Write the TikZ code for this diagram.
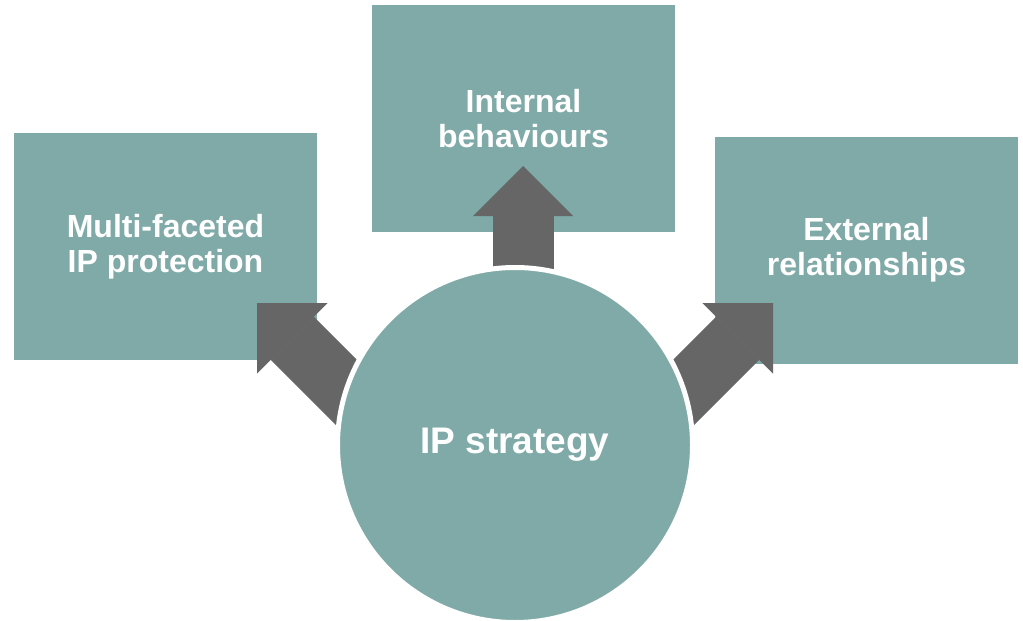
\documentclass[tikz,border=0pt]{standalone}
\usepackage{fontspec}
\setmainfont{Liberation Sans}
\usetikzlibrary{arrows.meta}
\definecolor{sage}{HTML}{7FAAA8}
\definecolor{slate}{HTML}{666666}

\begin{document}
\begin{tikzpicture}[x=0.5pt, y=-0.5pt,
    block/.style={fill=sage, minimum width=151.5pt, minimum height=113.5pt, inner sep=0pt,
        text=white, align=center, font=\bfseries\fontsize{16}{17.5}\selectfont},
    hub/.style={circle, fill=sage, draw=white, line width=2.5pt, minimum size=177.5pt,
        inner sep=0pt, text=white, font=\bfseries\fontsize{18.5}{22}\selectfont},
    fat/.style={slate, line width=30.5pt, -{Triangle[length=25pt, width=50pt, line width=0pt]}}]
                \useasboundingbox (0,0) rectangle (1023,621);
                \coordinate (tipL) at (257,303);
                \coordinate (tailL) at (407,453);
                \coordinate (tipT) at (523,166);
                \coordinate (tailT) at (523,360);
                \coordinate (tipR) at (773,303);
                \coordinate (tailR) at (623,453);
                \node[block] (protect) at (165.5,246.5) {Multi-faceted\\IP protection};
                \node[block] (internal) at (523.5,118.5) {Internal\\behaviours};
                \node[block] (external) at (866.5,250) {External\\relationships};
                \draw[fat] (tailL) -- (tipL);
                \draw[fat] (tailT) -- (tipT);
                \draw[fat] (tailR) -- (tipR);
                \node[hub] (strategy) at (515,445) {IP strategy};
            \end{tikzpicture}
\end{document}
